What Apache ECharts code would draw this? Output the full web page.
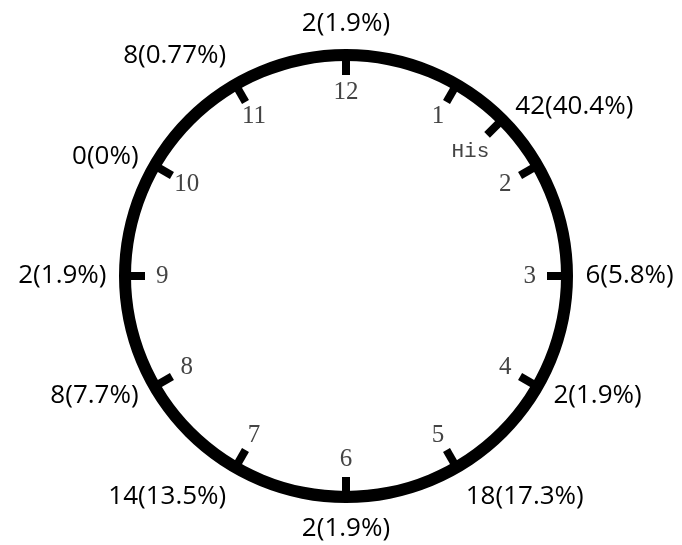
<!DOCTYPE html>
<html>
<head>
<meta charset="utf-8">
<script src="https://cdn.jsdelivr.net/npm/echarts@6/dist/echarts.min.js"></script>
<style>
  html, body { margin: 0; padding: 0; background: #fff; }
  #main { width: 682px; height: 545px; }
</style>
</head>
<body>
<div id="main"></div>
<script>
// clock face data
var hourLabels = ['12', '1', '2', '3', '4', '5', '6', '7', '8', '9', '10', '11'];
var hours = [12, 1.5, 3, 4, 5, 6, 7, 8, 9, 10, 11];
var counts = [2, 42, 6, 2, 18, 2, 14, 8, 2, 0, 8];
var percents = ['1.9', '40.4', '5.8', '1.9', '17.3', '1.9', '13.5', '7.7', '1.9', '0', '0.77'];
var hisHour = 1.5;
var hisLabel = 'His';

var cx = 346, cy = 276, R = 227;

var myChart = echarts.init(document.getElementById('main'));

// outer count labels, alignment depends on where the hour sits
var outerData = [];
for (var i = 0; i < hours.length; i++) {
  var a = hours[i] / 12 * Math.PI * 2;
  var sx = Math.sin(a), cyv = Math.cos(a);
  var align = Math.abs(sx) < 0.3 ? 'center' : (sx > 0 ? 'left' : 'right');
  var valign = cyv > 0.8 ? 'bottom' : (cyv < -0.8 ? 'top' : 'middle');
  outerData.push({
    value: [1.055, hours[i] % 12],
    name: counts[i] + '(' + percents[i] + '%)',
    label: { align: align, verticalAlign: valign }
  });
}

// numbers on the dial
var innerData = hourLabels.map(function (t, k) {
  return { value: [0.81, k], name: t };
});

var hidden = { color: 'rgba(0,0,0,0)', opacity: 1 };

var option = {
  backgroundColor: '#fff',
  animation: false,
  polar: { center: [cx, cy], radius: [0, R] },
  angleAxis: {
    type: 'value', min: 0, max: 12, startAngle: 90, clockwise: true,
    show: false
  },
  radiusAxis: { type: 'value', min: 0, max: 1, show: false },
  series: [
    {
      type: 'gauge',
      center: [cx, cy],
      radius: R,
      startAngle: 90,
      endAngle: -270,
      min: 0,
      max: 12,
      splitNumber: 12,
      pointer: { show: false },
      anchor: { show: false },
      progress: { show: false },
      title: { show: false },
      detail: { show: false },
      axisLine: { lineStyle: { width: 12, color: [[1, '#000']] } },
      axisTick: { show: false },
      splitLine: { distance: -3, length: 17, lineStyle: { width: 8, color: '#000' } },
      axisLabel: { show: false },
      data: [{ value: 0 }]
    },
    {
      // the extra "His" tick
      type: 'scatter',
      coordinateSystem: 'polar',
      clip: false,
      symbol: 'rect',
      symbolSize: [8, 17],
      symbolRotate: -hisHour * 30,
      itemStyle: { color: '#000', opacity: 1 },
      data: [[(R - 12 - 7) / R, hisHour]],
      silent: true
    },
    {
      type: 'scatter',
      coordinateSystem: 'polar',
      clip: false,
      symbolSize: 1,
      itemStyle: hidden,
      label: {
        show: true, position: 'inside', formatter: '{b}', opacity: 1,
        color: '#444', fontSize: 25, fontFamily: 'Liberation Serif'
      },
      data: innerData,
      silent: true
    },
    {
      type: 'scatter',
      coordinateSystem: 'polar',
      clip: false,
      symbolSize: 1,
      itemStyle: hidden,
      label: {
        show: true, position: 'inside', formatter: hisLabel, opacity: 1,
        color: '#444', fontSize: 21, fontFamily: 'Liberation Mono'
      },
      data: [[0.775, hisHour]],
      silent: true
    },
    {
      type: 'scatter',
      coordinateSystem: 'polar',
      clip: false,
      symbolSize: 1,
      itemStyle: hidden,
      label: {
        show: true, position: 'inside', formatter: '{b}', opacity: 1,
        color: '#000', fontSize: 26, fontFamily: 'Open Sans'
      },
      data: outerData,
      silent: true
    }
  ]
};
myChart.setOption(option);
</script>
</body>
</html>
